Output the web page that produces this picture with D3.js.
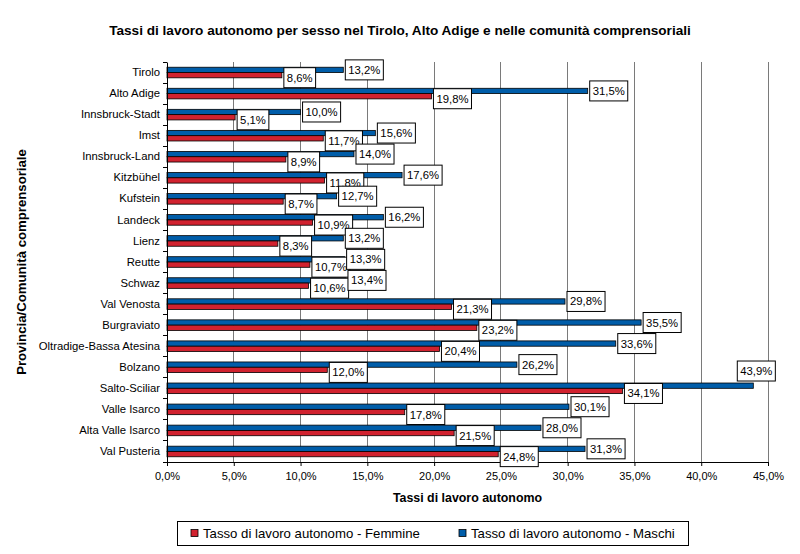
<!DOCTYPE html>
<html>
<head>
<meta charset="utf-8">
<script src="https://cdn.jsdelivr.net/npm/d3@7"></script>
<style>
  html, body { margin: 0; padding: 0; background: #fff; }
  svg { display: block; }
  text { font-family: "Liberation Sans", Arial, sans-serif; }
</style>
</head>
<body>
<svg id="chart" width="800" height="554"></svg>
<script>
const categories = ["Tirolo","Alto Adige","Innsbruck-Stadt","Imst","Innsbruck-Land","Kitzbühel","Kufstein","Landeck","Lienz","Reutte","Schwaz","Val Venosta","Burgraviato","Oltradige-Bassa Atesina","Bolzano","Salto-Sciliar","Valle Isarco","Alta Valle Isarco","Val Pusteria"];
const femmine = [8.6,19.8,5.1,11.7,8.9,11.8,8.7,10.9,8.3,10.7,10.6,21.3,23.2,20.4,12.0,34.1,17.8,21.5,24.8];
const maschi = [13.2,31.5,10.0,15.6,14.0,17.6,12.7,16.2,13.2,13.3,13.4,29.8,35.5,33.6,26.2,43.9,30.1,28.0,31.3];
const xTicks = [0,5,10,15,20,25,30,35,40,45];
const seriesNames = ["Tasso di lavoro autonomo - Femmine","Tasso di lavoro autonomo - Maschi"];
const title = "Tassi di lavoro autonomo per sesso nel Tirolo, Alto Adige e nelle comunità comprensoriali";
const xTitle = "Tassi di lavoro autonomo";
const yTitle = "Provincia/Comunità comprensoriale";

(function(){
const RED = "#D1222F", BLUE = "#005DA9";
const svg = d3.select("#chart");
const pL = 167, pR = 768, pT = 62, pB = 462;
const loc = d3.formatLocale({decimal: ",", thousands: ".", grouping: [3], currency: ["", "€"]});
const fmt = v => loc.format(".1f")(v) + "%";

const x = d3.scaleLinear().domain([0,45]).range([pL,pR]);
const y = d3.scaleBand().domain(categories).range([pT,pB]);
const bh = 5.3;

// title
svg.append("text").attr("x",400).attr("y",35).attr("text-anchor","middle")
  .attr("font-size",13.6).attr("font-weight","bold").text(title);

// gridlines
svg.append("g").selectAll("line").data(xTicks.filter(d=>d>0)).join("line")
  .attr("x1",d=>x(d)).attr("x2",d=>x(d)).attr("y1",pT).attr("y2",pB)
  .attr("stroke","#7a7a7a").attr("stroke-width",1).attr("shape-rendering","crispEdges");

// bars
const g = svg.append("g");
g.selectAll("rect.m").data(categories).join("rect").attr("class","m")
  .attr("x",x(0)).attr("y",(d)=>y(d)+y.bandwidth()/2-bh)
  .attr("width",(d,i)=>x(maschi[i])-x(0)).attr("height",bh)
  .attr("fill",BLUE).attr("stroke","#000").attr("stroke-width",0.8);
g.selectAll("rect.f").data(categories).join("rect").attr("class","f")
  .attr("x",x(0)).attr("y",(d)=>y(d)+y.bandwidth()/2)
  .attr("width",(d,i)=>x(femmine[i])-x(0)).attr("height",bh)
  .attr("fill",RED).attr("stroke","#000").attr("stroke-width",0.8);

// axes
const xAxis = svg.append("g").attr("transform",`translate(0,${pB})`)
  .call(d3.axisBottom(x).tickValues(xTicks).tickFormat(fmt).tickSize(4).tickPadding(6));
xAxis.select(".domain").attr("stroke","#000");
xAxis.selectAll("text").attr("font-size",11).attr("font-family","Liberation Sans, Arial, sans-serif").attr("fill","#000");

const yAxis = svg.append("g").attr("transform",`translate(${pL},0)`)
  .call(d3.axisLeft(y).tickSize(0).tickPadding(7));
yAxis.select(".domain").attr("stroke","#000");
yAxis.selectAll("text").attr("font-size",11.3).attr("font-family","Liberation Sans, Arial, sans-serif").attr("fill","#000");
// band boundary ticks
svg.append("g").selectAll("line").data(d3.range(categories.length+1)).join("line")
  .attr("x1",pL-4).attr("x2",pL)
  .attr("y1",i=>pT+i*y.step()).attr("y2",i=>pT+i*y.step())
  .attr("stroke","#000").attr("shape-rendering","crispEdges");

// data labels
function addLabels(vals, offsetFn) {
  const lg = svg.append("g");
  vals.forEach((v,i) => {
    const c = categories[i];
    const grp = lg.append("g");
    const t = grp.append("text").attr("font-size",11.3).attr("fill","#000").text(fmt(v));
    const w = t.node().getComputedTextLength() + 6;
    const h = 20;
    let bx = x(v) + 2;
    let cy = offsetFn(c);
    if (bx + w > 790) { // label doesn't fit: place above bar end
      bx = x(v) - w/2 + 3;
      cy = y(c) + y.bandwidth()/2 - bh - 2 - h/2;
    }
    grp.insert("rect","text").attr("x",bx).attr("y",cy-h/2).attr("width",w).attr("height",h)
      .attr("fill","#fff").attr("stroke","#000").attr("stroke-width",1);
    t.attr("x",bx+3).attr("y",cy+4);
  });
}
addLabels(femmine, c => y(c)+y.bandwidth()/2+bh/2+2.5);
addLabels(maschi, c => y(c)+y.bandwidth()/2-bh/2);

// axis titles
svg.append("text").attr("x",(pL+pR)/2).attr("y",502).attr("text-anchor","middle")
  .attr("font-size",12.4).attr("font-weight","bold").text(xTitle);
svg.append("text").attr("transform",`translate(26,${(pT+pB)/2}) rotate(-90)`)
  .attr("text-anchor","middle").attr("font-size",13.2).attr("font-weight","bold").text(yTitle);

// legend
const lgd = svg.append("g");
lgd.append("rect").attr("x",177.5).attr("y",521.5).attr("width",511).attr("height",24)
  .attr("fill","#fff").attr("stroke","#000");
const legX = [191, 459];
[RED, BLUE].forEach((col,i) => {
  lgd.append("rect").attr("x",legX[i]).attr("y",529.5).attr("width",7).attr("height",7)
    .attr("fill",col).attr("stroke","#000").attr("stroke-width",0.8);
  lgd.append("text").attr("x",legX[i]+12).attr("y",538).attr("font-size",13.2).text(seriesNames[i]);
});
})();
</script>
</body>
</html>
